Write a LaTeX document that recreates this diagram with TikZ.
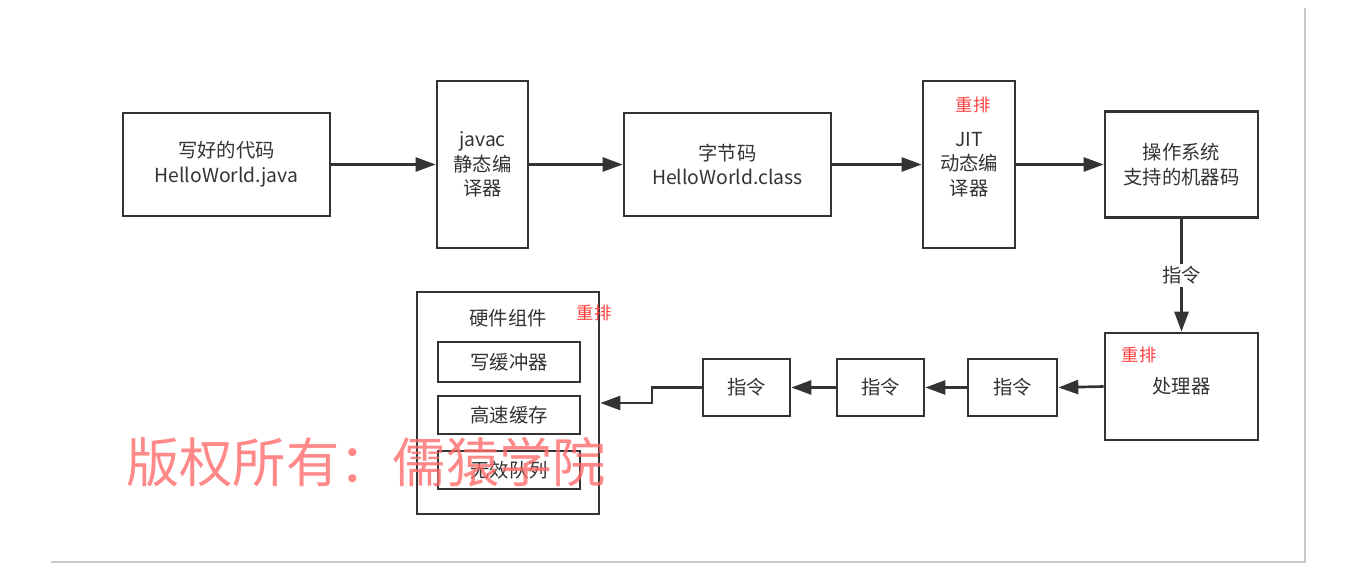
\documentclass[tikz,border=0pt]{standalone}
\usepackage{fontspec}
\setmainfont{Noto Sans CJK SC}
\usetikzlibrary{arrows.meta}
\definecolor{ink}{HTML}{333333}
\definecolor{reord}{HTML}{FF4040}
\definecolor{wmark}{HTML}{FF6A6A}
\definecolor{frameline}{HTML}{C8C8C8}
\tikzset{
  box/.style={draw=ink, line width=2pt, inner sep=0pt, align=center, text=ink,
    font=\fontsize{14.5pt}{18.5pt}\selectfont},
  arr/.style={draw=ink, line width=2pt, -{Triangle[length=15pt,width=10.5pt]}},
  reorder/.style={text=reord, font=\fontsize{13pt}{15pt}\selectfont, inner sep=0pt},
  lbl/.style={fill=white, text=ink, inner sep=2pt, font=\fontsize{14.5pt}{18pt}\selectfont},
  border/.style={draw=frameline, line width=1pt}
}
\begin{document}
\begin{tikzpicture}[x=0.75pt, y=-0.75pt]
\useasboundingbox (0,0) rectangle (1360,588);
% outer frame lines
\coordinate (ftop) at (1305,8);
\coordinate (fcorner) at (1305,562);
\coordinate (fleft) at (51,562);
\draw[border] (ftop) -- (fcorner) -- (fleft);

% top row
\node[box, minimum width=155.25pt, minimum height=77.25pt] (src) at (226.5,164.5) {写好的代码\\HelloWorld.java};
\node[box, minimum width=68.25pt, minimum height=125.25pt] (javac) at (482.5,164.5) {javac\\静态编\\译器};
\node[box, minimum width=155.25pt, minimum height=77.25pt] (bc) at (727.5,164.5) {字节码\\HelloWorld.class};
\node[box, minimum width=69pt, minimum height=125.25pt] (jit) at (969,164.5) {JIT\\动态编\\译器};
\node[box, minimum width=114.75pt, minimum height=79.5pt] (os) at (1181.5,164.5) {操作系统\\支持的机器码};

% lower row
\node[box, minimum width=114.75pt, minimum height=80.25pt] (cpu) at (1181.5,386.5) {处理器};
\node[box, minimum width=66.75pt, minimum height=42.75pt] (insC) at (1012.5,387.5) {指令};
\node[box, minimum width=65.25pt, minimum height=42.75pt] (insB) at (880.5,387.5) {指令};
\node[box, minimum width=65.25pt, minimum height=42.75pt] (insA) at (746.5,387.5) {指令};

% hardware
\node[box, minimum width=136.5pt, minimum height=166.5pt] (hw) at (508,403) {};
\node[text=ink, font=\fontsize{14.5pt}{18pt}\selectfont, inner sep=0pt] (hwt) at (508,318) {硬件组件};
\node[box, minimum width=106.5pt, minimum height=30pt] (wb) at (509,362) {写缓冲器};
\node[box, minimum width=106.5pt, minimum height=28.5pt] (cache) at (509,415) {高速缓存};
\node[box, minimum width=106.5pt, minimum height=28.5pt] (iq) at (509,470) {无效队列};

% reorder labels
\node[reorder] (r1) at (973,105) {重排};
\node[reorder] (r2) at (1139,355) {重排};
\node[reorder] (r3) at (594,313) {重排};

% connectors
\draw[arr] (src.east) -- (javac.west);
\draw[arr] (javac.east) -- (bc.west);
\draw[arr] (bc.east) -- (jit.west);
\draw[arr] (jit.east) -- (os.west);
\draw[arr] (os.south) -- node[lbl] (lab) {指令} (cpu.north);
\draw[arr] (cpu.west) -- (insC.east);
\draw[arr] (insC.west) -- (insB.east);
\draw[arr] (insB.west) -- (insA.east);
\coordinate (bend) at (652,387.5);
\draw[arr] (insA.west) -- (bend) |- (hw.east);

% watermark
\node[anchor=west, inner sep=0pt, text=wmark, opacity=0.8, font=\fontsize{40pt}{44pt}\selectfont] (wm) at (126,462) {版权所有：儒猿学院};
\end{tikzpicture}
\end{document}
